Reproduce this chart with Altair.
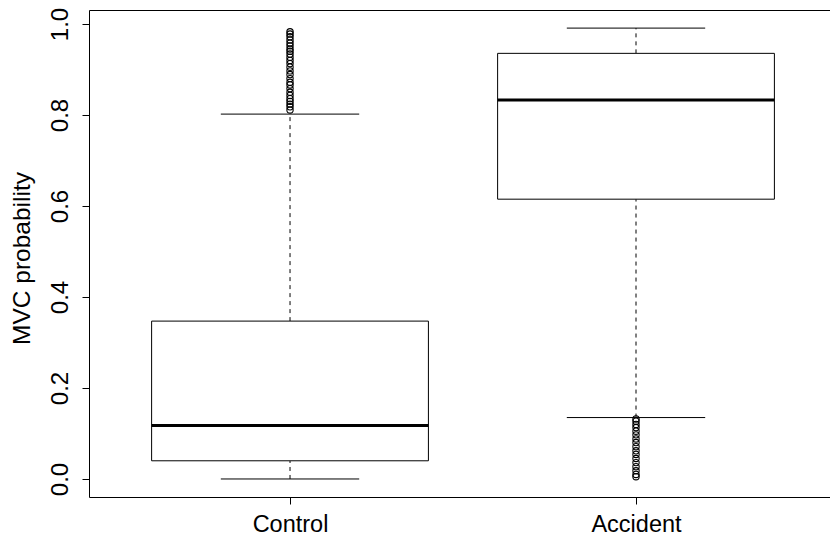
import altair as alt
import pandas as pd

# ---- data ----
categories = ["Control", "Accident"]
positions = [1, 2]
lower_whisker = [0.0, 0.135]
q1 = [0.040, 0.615]
median = [0.1175, 0.833]
q3 = [0.347, 0.9355]
upper_whisker = [0.802, 0.991]

control_outliers = [0.983, 0.978, 0.972, 0.965, 0.958, 0.952, 0.945, 0.940, 0.934,
                    0.927, 0.920, 0.913, 0.905, 0.897, 0.889, 0.880, 0.872, 0.866,
                    0.858, 0.850, 0.843, 0.836, 0.830, 0.824, 0.818, 0.811]
accident_outliers = [0.132, 0.127, 0.120, 0.113, 0.105, 0.097, 0.088, 0.080, 0.071,
                     0.062, 0.054, 0.045, 0.036, 0.027, 0.018, 0.010, 0.005]

y_ticks = [0.0, 0.2, 0.4, 0.6, 0.8, 1.0]

stats = pd.DataFrame({
    "group": categories,
    "pos": positions,
    "lower": lower_whisker,
    "q1": q1,
    "median": median,
    "q3": q3,
    "upper": upper_whisker,
})

out_rows = [{"group": "Control", "pos": 1, "value": v} for v in control_outliers] + \
           [{"group": "Accident", "pos": 2, "value": v} for v in accident_outliers]
outliers = pd.DataFrame(out_rows)

FONT = "Liberation Sans"
xscale = alt.Scale(domain=[0.419, 2.5607], nice=False, zero=False)
yscale = alt.Scale(domain=[-0.0396, 1.0308], nice=False, zero=False)

base = alt.Chart(stats).transform_calculate(
    left="datum.pos - 0.4", right="datum.pos + 0.4",
    capl="datum.pos - 0.2", capr="datum.pos + 0.2",
)

xaxis = alt.Axis(values=[1, 2], labelExpr="datum.value == 1 ? 'Control' : 'Accident'",
                 title=None, grid=False, domain=False, tickSize=7, tickColor="black",
                 tickWidth=1, labelFont=FONT, labelFontSize=23.5, labelColor="black",
                 labelBaseline="alphabetic", labelPadding=27, labelAlign="center")
yaxis = alt.Axis(values=y_ticks, format=".1f", title="MVC probability", grid=False,
                 domain=False, tickSize=7, tickColor="black", tickWidth=1,
                 labelFont=FONT, labelFontSize=24, labelColor="black", labelAngle=-90,
                 labelAlign="center", labelBaseline="alphabetic", labelPadding=15,
                 titleFont=FONT, titleFontSize=24.5, titleColor="black",
                 titleFontWeight="normal", titleAngle=-90, titleX=-60, titleY=248,
                 titleAlign="center", titleBaseline="alphabetic")

upper_w = base.mark_rule(color="black", strokeWidth=1, strokeDash=[4, 4]).encode(
    x=alt.X("pos:Q", scale=xscale, axis=xaxis),
    y=alt.Y("q3:Q", scale=yscale, axis=yaxis),
    y2="upper:Q",
)
lower_w = base.mark_rule(color="black", strokeWidth=1, strokeDash=[4, 4]).encode(
    x="pos:Q", y="lower:Q", y2="q1:Q",
)
cap_up = base.mark_rule(color="black", strokeWidth=1).encode(
    x="capl:Q", x2="capr:Q", y="upper:Q",
)
cap_lo = base.mark_rule(color="black", strokeWidth=1).encode(
    x="capl:Q", x2="capr:Q", y="lower:Q",
)
box = base.mark_rect(fill="white", stroke="black", strokeWidth=1).encode(
    x="left:Q", x2="right:Q", y="q1:Q", y2="q3:Q",
)
med = base.mark_rule(color="black", strokeWidth=3).encode(
    x="left:Q", x2="right:Q", y="median:Q",
)
pts = alt.Chart(outliers).mark_point(shape="circle", filled=False, color="black",
                                      size=40, strokeWidth=1.1, opacity=1).encode(
    x="pos:Q", y="value:Q",
)

chart = alt.layer(upper_w, lower_w, cap_up, cap_lo, box, med, pts).properties(
    width=741, height=487,
    autosize=alt.AutoSizeParams(type="none"),
    padding={"left": 89, "top": 10, "right": 0, "bottom": 38},
    background="white",
).configure_view(stroke="black", strokeWidth=1)

chart.save("out.html", embed_options={"renderer": "svg", "actions": False})
